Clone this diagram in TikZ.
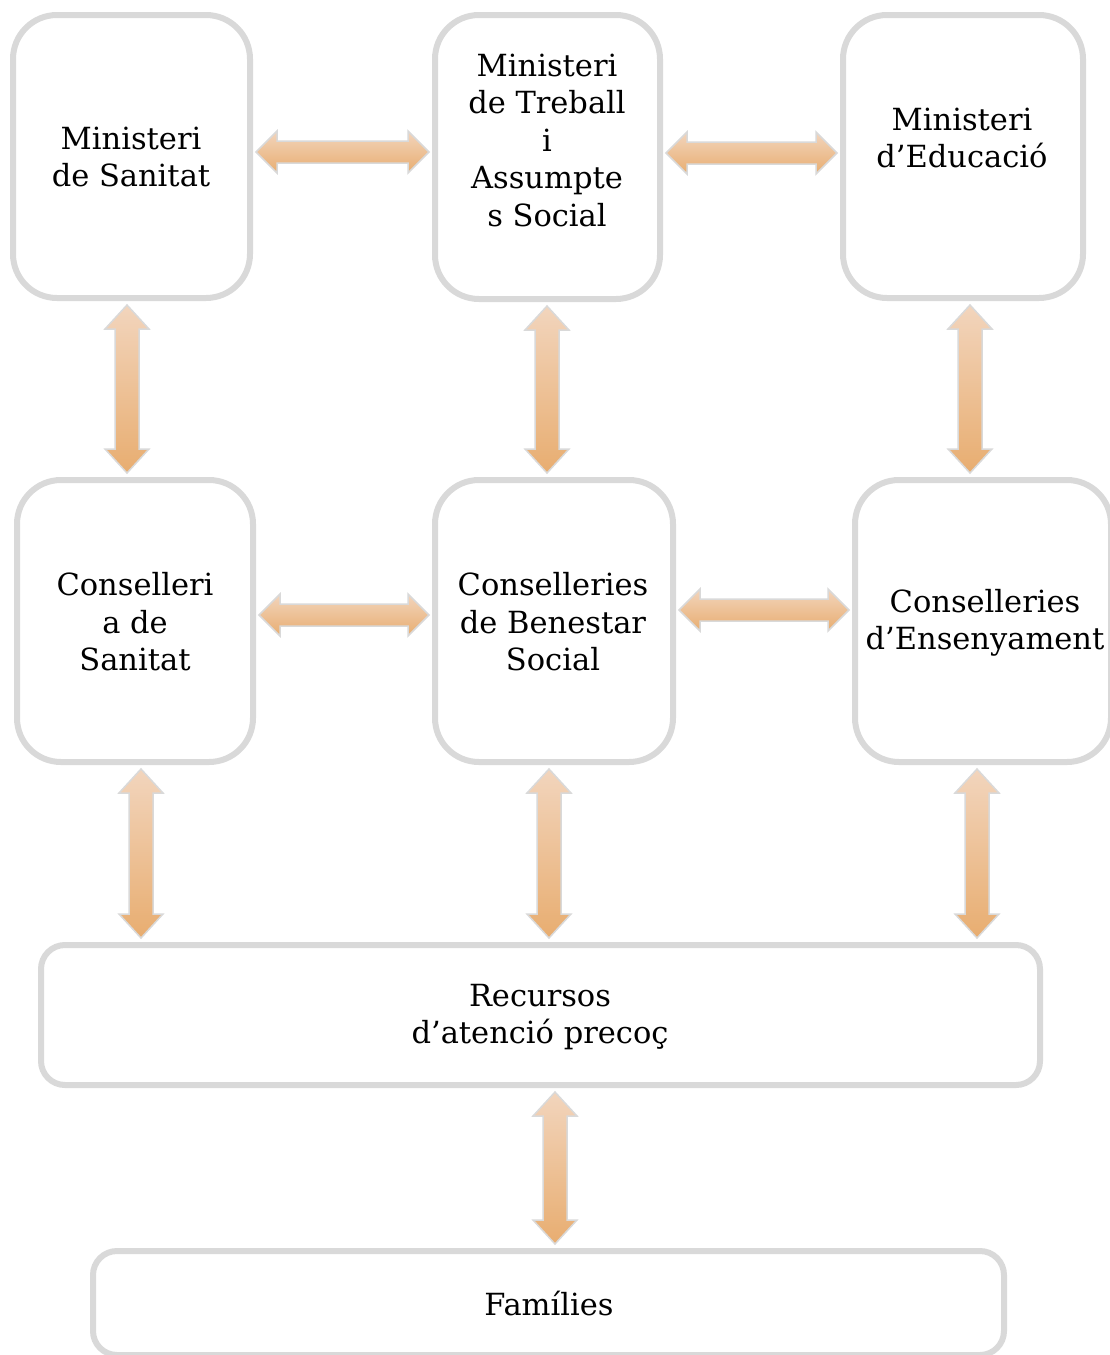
\documentclass[tikz,border=0pt]{standalone}
\usepackage{fontspec}
\setmainfont{DejaVu Serif}
\usetikzlibrary{calc}
\definecolor{boxgray}{HTML}{D9D9D9}
\definecolor{arrlight}{HTML}{F2D5BD}
\definecolor{arrdark}{HTML}{E8AD70}
\tikzset{
  tallbox/.style={draw=boxgray, line width=6pt, fill=white, rounded corners=44pt, inner sep=0pt},
  widebox/.style={draw=boxgray, line width=6pt, fill=white, rounded corners=24pt, inner sep=0pt},
  txt/.style={align=center, font=\fontsize{30.5}{37.5}\selectfont, inner sep=0pt},
  arr/.style={draw=boxgray, line width=1.5pt, top color=arrlight, bottom color=arrdark, line join=miter}
}
% horizontal double arrow: #1 left node, #2 right node, #3 y
\newcommand\harr[3]{%
  \path[arr] let \p1=(#1.east), \p2=(#2.west), \p3=(0,#3) in
    (\x1+3pt,\y3) -- (\x1+24pt,\y3+21pt) -- (\x1+24pt,\y3+11pt) -- (\x2-24pt,\y3+11pt)
    -- (\x2-24pt,\y3+21pt) -- (\x2-3pt,\y3) -- (\x2-24pt,\y3-21pt) -- (\x2-24pt,\y3-11pt)
    -- (\x1+24pt,\y3-11pt) -- (\x1+24pt,\y3-21pt) -- cycle;}
% vertical double arrow: #1 upper node, #2 lower node, #3 x
\newcommand\varr[3]{%
  \path[arr] let \p1=(#1.south), \p2=(#2.north), \p3=(#3,0) in
    (\x3,\y1-4pt) -- (\x3+22pt,\y1-28pt) -- (\x3+12pt,\y1-28pt) -- (\x3+12pt,\y2+28pt)
    -- (\x3+22pt,\y2+28pt) -- (\x3,\y2+4pt) -- (\x3-22pt,\y2+28pt) -- (\x3-12pt,\y2+28pt)
    -- (\x3-12pt,\y1-28pt) -- (\x3-22pt,\y1-28pt) -- cycle;}
\begin{document}
\begin{tikzpicture}[x=1pt,y=-1pt]
\useasboundingbox (0,0) rectangle (1109,1355);
% boxes
\node[tallbox, minimum width=237pt, minimum height=283pt] (ms) at (131.5,156.5) {};
\node[tallbox, minimum width=225pt, minimum height=284pt] (mt) at (547.5,157) {};
\node[tallbox, minimum width=240pt, minimum height=283pt] (me) at (963,156.5) {};
\node[tallbox, minimum width=236pt, minimum height=282pt] (cs) at (135,621) {};
\node[tallbox, minimum width=238pt, minimum height=282pt] (cb) at (554,621) {};
\node[tallbox, minimum width=256pt, minimum height=282pt] (ce) at (983,621) {};
\node[widebox, minimum width=999pt, minimum height=140pt] (rec) at (540.5,1015) {};
\node[widebox, minimum width=911pt, minimum height=104pt] (fam) at (548.5,1303) {};
% texts
\node[txt] (tms) at (131,157) {Ministeri\\de Sanitat};
\node[txt] (tmt) at (547,140) {Ministeri\\de Treball\\i\\Assumpte\\s Social};
\node[txt] (tme) at (962,138) {Ministeri\\d’Educació};
\node[txt] (tcs) at (135,622) {Conselleri\\a de\\Sanitat};
\node[txt] (tcb) at (553,622) {Conselleries\\de Benestar\\Social};
\node[txt] (tce) at (985,623) {Conselleries\\d’Ensenyament};
\node[txt] (trec) at (540,1017) {Recursos\\d’atenció precoç};
\node[txt] (tfam) at (549,1304) {Famílies};
% arrows
\harr{ms}{mt}{152}
\harr{mt}{me}{153}
\harr{cs}{cb}{615}
\harr{cb}{ce}{610}
\varr{ms}{cs}{127}
\varr{mt}{cb}{547}
\varr{me}{ce}{970}
\varr{cs}{rec}{141}
\varr{cb}{rec}{549}
\varr{ce}{rec}{977}
\varr{rec}{fam}{555}
\end{tikzpicture}
\end{document}
